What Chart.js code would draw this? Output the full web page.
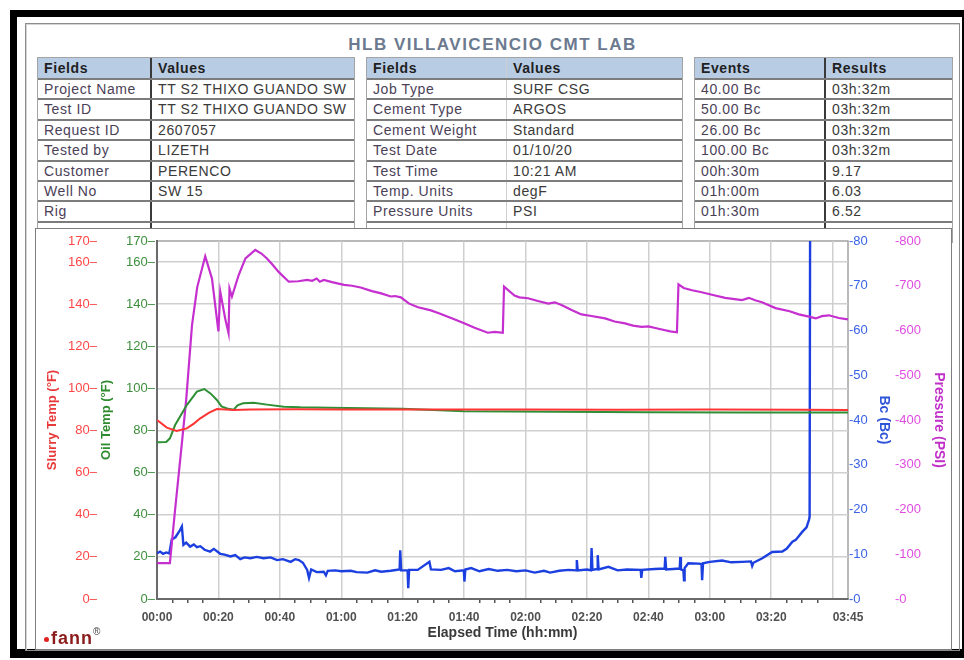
<!DOCTYPE html>
<html>
<head>
<meta charset="utf-8">
<title>HLB VILLAVICENCIO CMT LAB</title>
<script src="https://cdn.jsdelivr.net/npm/chart.js@4.4.1/dist/chart.umd.min.js"></script>
<style>
    html, body { margin: 0; padding: 0; background: #fff; }
    body {
        width: 964px; height: 660px; position: relative; overflow: hidden;
        font-family: 'Liberation Sans', Arial, sans-serif;
    }
    #blackFrame {
        position: absolute; left: 10px; top: 10px; width: 945px; height: 632px;
        border: solid #000; border-width: 7px 2px 9px 7px;
    }
    #report {
        position: absolute; left: 25px; top: 23px; width: 933px; height: 626px;
        border: 1px solid #8c8c8c; box-shadow: inset 1px 1px 0 #d4d4d4;
    }
    #title {
        position: absolute; left: 25px; top: 36px; width: 935px; margin: 0;
        text-align: center; font-size: 17px; line-height: 18px; font-weight: bold;
        letter-spacing: 1.5px; color: #6b7a8f;
    }
    .tbl {
        position: absolute; top: 57px;
        border: 1px solid #a4a4a4; border-bottom: none;
        font-size: 14px; letter-spacing: 0.6px;
    }
    .tbl > div {
        display: grid; height: 20.4px; box-sizing: border-box;
        border-bottom: 2px solid #7c7c7c;
    }
    .tbl > div.hd { height: 22px; background: #b8cce4; font-weight: bold; color: #1f1f1f; }
    .tbl span {
        padding-left: 6px; line-height: 18.4px; white-space: nowrap; overflow: hidden;
    }
    .tbl > div.hd span { line-height: 20px; }
    .tbl span:first-child { color: #4b3f58; }
    .tbl span + span { color: #3a3a3a; border-left: 1px solid #cfcfcf; }
    .tbl.dark span + span { border-left: 2px solid #3a3a3a; }
    .tbl > div.hd span { color: #1f1f1f; }
    #chartPanel {
        position: absolute; left: 35px; top: 228px; width: 917px; height: 422px;
        box-sizing: border-box; border: 1px solid #7d7d7d; background: #fff; z-index: 2;
    }
    #chartPanel canvas { position: absolute; left: 0; top: 0; }
    #logo {
        position: absolute; left: 44px; top: 622px; z-index: 3;
        font-size: 18px; line-height: 20px; font-weight: bold; letter-spacing: 1px;
        color: #8c1c1c;
    }
    #logo i {
        display: inline-block; width: 5px; height: 5px; border-radius: 50%;
        background: #e02020; margin-right: 2px; vertical-align: 2px;
    }
    #logo sup { font-size: 10px; color: #444; font-weight: normal; vertical-align: 9px; }
</style>
</head>
<body>
<div id="blackFrame"></div>
<div id="report"></div>
<h1 id="title">HLB VILLAVICENCIO CMT LAB</h1>

<div class="tbl dark" style="left:37px; width:316px;">
    <div class="hd" style="grid-template-columns:112px 1fr"><span>Fields</span><span>Values</span></div>
    <div style="grid-template-columns:112px 1fr"><span>Project Name</span><span>TT S2 THIXO GUANDO SW</span></div>
    <div style="grid-template-columns:112px 1fr"><span>Test ID</span><span>TT S2 THIXO GUANDO SW</span></div>
    <div style="grid-template-columns:112px 1fr"><span>Request ID</span><span>2607057</span></div>
    <div style="grid-template-columns:112px 1fr"><span>Tested by</span><span>LIZETH</span></div>
    <div style="grid-template-columns:112px 1fr"><span>Customer</span><span>PERENCO</span></div>
    <div style="grid-template-columns:112px 1fr"><span>Well No</span><span>SW 15</span></div>
    <div style="grid-template-columns:112px 1fr"><span>Rig</span><span></span></div>
    <div style="grid-template-columns:112px 1fr"><span></span><span></span></div>
</div>

<div class="tbl" style="left:366px; width:315px;">
    <div class="hd" style="grid-template-columns:139px 1fr"><span>Fields</span><span>Values</span></div>
    <div style="grid-template-columns:139px 1fr"><span>Job Type</span><span>SURF CSG</span></div>
    <div style="grid-template-columns:139px 1fr"><span>Cement Type</span><span>ARGOS</span></div>
    <div style="grid-template-columns:139px 1fr"><span>Cement Weight</span><span>Standard</span></div>
    <div style="grid-template-columns:139px 1fr"><span>Test Date</span><span>01/10/20</span></div>
    <div style="grid-template-columns:139px 1fr"><span>Test Time</span><span>10:21 AM</span></div>
    <div style="grid-template-columns:139px 1fr"><span>Temp. Units</span><span>degF</span></div>
    <div style="grid-template-columns:139px 1fr"><span>Pressure Units</span><span>PSI</span></div>
    <div style="grid-template-columns:139px 1fr"><span></span><span></span></div>
</div>

<div class="tbl dark" style="left:694px; width:257px;">
    <div class="hd" style="grid-template-columns:129px 1fr"><span>Events</span><span>Results</span></div>
    <div style="grid-template-columns:129px 1fr"><span>40.00 Bc</span><span>03h:32m</span></div>
    <div style="grid-template-columns:129px 1fr"><span>50.00 Bc</span><span>03h:32m</span></div>
    <div style="grid-template-columns:129px 1fr"><span>26.00 Bc</span><span>03h:32m</span></div>
    <div style="grid-template-columns:129px 1fr"><span>100.00 Bc</span><span>03h:32m</span></div>
    <div style="grid-template-columns:129px 1fr"><span>00h:30m</span><span>9.17</span></div>
    <div style="grid-template-columns:129px 1fr"><span>01h:00m</span><span>6.03</span></div>
    <div style="grid-template-columns:129px 1fr"><span>01h:30m</span><span>6.52</span></div>
    <div style="grid-template-columns:129px 1fr"><span></span><span></span></div>
</div>

<div id="chartPanel">
    <canvas id="cement-chart" width="914" height="420"></canvas>
</div>
<div id="logo"><i></i>fann<sup>®</sup></div>

<script>
// elapsed minutes / readings
const slurryTime = [0, 3.2, 6.4, 9.7, 12, 14.1, 17, 19.5, 25, 30.4, 45, 60, 90, 120, 150, 180, 210, 225];
const slurryTemp = [85, 81.4, 79.8, 81, 83.3, 85.8, 88.5, 90.2, 89.8, 90, 90.1, 90, 90, 90, 89.9, 90, 89.9, 89.8];

const oilTime = [0, 3, 4.2, 5.9, 9.7, 13, 15.4, 17.5, 19.5, 21, 22.8, 25, 26.2, 28, 31.5, 35.8, 41.3, 46.7, 56.5, 80, 100, 130, 160, 190, 225];
const oilTemp = [74.4, 74.6, 76.3, 82.6, 92.1, 98.5, 99.7, 97.5, 94.5, 91.5, 90.5, 89.9, 92, 92.9, 93.2, 92.3, 91.3, 91, 90.8, 90.3, 89.2, 88.9, 88.7, 88.6, 88.6];

const pressureTime = [0, 4.2, 5.9, 8.2, 9.5, 11.4, 13.1, 15.7, 17.9, 20, 20.6, 22.2, 23.3, 23.6, 24.4, 26.6, 28.8, 32, 34, 35.8, 37.5, 39.6, 42.9, 46, 48.9, 50.5, 52, 53, 54.3, 57, 60.9, 63.5, 66.3, 70, 73, 76.1, 77.5, 79.4, 82.1, 85, 89.2, 92, 96.8, 100, 103.4, 107.7, 110, 112.6, 113, 116.4, 118, 120.8, 124, 127.4, 129.5, 131.7, 135, 138.2, 141, 145.9, 149, 152.4, 155, 157.8, 160, 163.3, 167.1, 169.3, 169.8, 171.5, 174.2, 177, 180.7, 185, 190.5, 192.7, 195, 197, 201.4, 206, 209, 212.3, 214.5, 216.5, 218.8, 222, 225];
const pressureValues = [80, 80, 200, 355, 445, 612, 697, 766, 716, 598, 687, 627, 594, 694, 676, 724, 761, 780, 772, 761, 748, 731, 709, 710, 713, 711, 716, 709, 713, 708, 702, 700, 696, 688, 683, 676, 677, 674, 660, 652, 645, 638, 625, 616, 606, 595, 597, 595, 698, 678, 674, 672, 666, 660, 663, 657, 646, 636, 633, 627, 620, 616, 611, 608, 609, 604, 598, 596, 703, 695, 690, 686, 680, 673, 668, 673, 667, 663, 650, 643, 636, 631, 627, 632, 634, 628, 625];

const bcTime = [0, 1, 2, 3, 4, 4.8, 6, 7.5, 8.1, 8.6, 9.5, 10.8, 12, 13, 14.1, 15.5, 17.3, 18.5, 20.6, 22, 23.9, 25.5, 27.1, 28.5, 30.4, 32.5, 34.7, 37, 39.1, 41, 43.5, 45, 46.2, 47.5, 48.9, 49.5, 50.2, 52, 54.3, 55, 55.6, 58, 60, 63.1, 65, 68.5, 71, 73, 76.1, 79, 79.2, 79.5, 81.6, 81.8, 82.1, 84.9, 88.7, 89.2, 92.5, 95, 97, 99.9, 100.1, 100.4, 102.3, 105, 108, 111, 114, 117, 120, 123, 126, 128, 131, 134, 136.5, 136.7, 137, 140, 141.3, 141.5, 141.8, 143.3, 143.5, 143.8, 147, 150, 153, 157.5, 157.7, 158, 162, 165.3, 165.5, 165.8, 170.2, 170.4, 170.6, 171.4, 171.6, 171.8, 173, 176.4, 177.3, 177.5, 177.8, 180, 184, 187, 190.5, 193.4, 193.8, 194.2, 197.1, 200.3, 203.6, 205, 206.9, 208, 210.1, 211.5, 212.3, 212.5, 212.7];
const bcValues = [10.2, 10.6, 10.1, 10.4, 10.2, 13.3, 13.8, 15.4, 16.2, 12.1, 12.6, 11.7, 12.2, 11.6, 11.8, 11.0, 10.6, 11.2, 10.1, 9.9, 9.5, 9.8, 8.9, 9.3, 9.1, 9.4, 9.1, 9.3, 8.7, 8.9, 8.3, 8.9, 8.7, 8.1, 6.5, 4.7, 6.6, 6.0, 6.1, 5.3, 6.3, 6.4, 6.2, 6.3, 6.0, 5.9, 6.4, 6.1, 6.3, 6.6, 10.9, 6.4, 6.4, 2.4, 6.5, 6.5, 8.3, 6.6, 6.5, 6.9, 6.2, 6.4, 3.9, 6.6, 6.9, 6.2, 6.7, 6.3, 6.5, 6.2, 6.4, 5.9, 6.3, 5.9, 6.3, 6.5, 6.4, 8.7, 6.4, 6.6, 6.4, 11.4, 6.5, 6.7, 9.8, 6.6, 7.2, 6.4, 6.6, 6.5, 4.7, 6.5, 6.7, 6.8, 9.4, 6.6, 6.8, 9.4, 6.6, 6.4, 4.2, 6.9, 8.0, 7.9, 7.8, 4.2, 8.0, 8.3, 8.6, 8.2, 8.3, 8.4, 7.4, 8.1, 9.1, 10.5, 10.6, 11.2, 12.8, 13.2, 15.0, 16.0, 17.7, 18.4, 100];

const tempTicks = [0, 20, 40, 60, 80, 100, 120, 140, 160, 170];
const xLabelMinutes = [0, 20, 40, 60, 80, 100, 120, 140, 160, 180, 200, 225];
const xTickLabels = ['00:00', '00:20', '00:40', '01:00', '01:20', '01:40', '02:00', '02:20', '02:40', '03:00', '03:20', '03:45'];

const FONT = "'Liberation Sans', Arial, sans-serif";
const GRID = '#cfcfcf';

Chart.defaults.font.family = FONT;

function toPoints(times, values) {
    return times.map((t, i) => ({ x: t, y: values[i] }));
}

// light frame round the plot area (left and bottom get the darker axis borders)
const plotFrame = {
    id: 'plotFrame',
    beforeDraw(chart) {
        const { ctx, chartArea: a } = chart;
        ctx.save();
        ctx.strokeStyle = '#a2a2a2';
        ctx.lineWidth = 1.5;
        ctx.strokeRect(a.left, a.top, a.right - a.left, a.bottom - a.top);
        ctx.restore();
    }
};

const ctx = document.getElementById('cement-chart').getContext('2d');
new Chart(ctx, {
    type: 'line',
    data: {
        datasets: [
            { label: 'Slurry Temp', data: toPoints(slurryTime, slurryTemp), borderColor: '#ff3434', yAxisID: 'ySlurry' },
            { label: 'Oil Temp', data: toPoints(oilTime, oilTemp), borderColor: '#2f8f35', yAxisID: 'yOil' },
            { label: 'Pressure', data: toPoints(pressureTime, pressureValues), borderColor: '#c52fcf', borderWidth: 2.2, yAxisID: 'yPressure' },
            { label: 'Bc', data: toPoints(bcTime, bcValues), borderColor: '#1c3fe0', borderWidth: 2.4, yAxisID: 'yBc' }
        ]
    },
    options: {
        responsive: false,
        animation: false,
        devicePixelRatio: 1,
        layout: { padding: { top: 12, left: 0, right: 0, bottom: 0 } },
        elements: {
            point: { radius: 0 },
            line: { borderWidth: 2, tension: 0 }
        },
        plugins: {
            legend: { display: false },
            tooltip: { enabled: false }
        },
        scales: {
            x: {
                type: 'linear',
                position: 'bottom',
                min: 0,
                max: 225,
                afterFit: scale => { scale.height = 50; },
                grid: {
                    color: c => (c.tick && c.tick.value % 20 === 0 && c.tick.value > 0 && c.tick.value < 225) ? GRID : 'transparent',
                    lineWidth: 1.5,
                    drawTicks: true,
                    tickLength: 4,
                    tickWidth: 1.5,
                    tickColor: c => (c.tick && c.tick.value % 20 !== 0 && c.tick.value !== 225) ? '#555' : 'transparent'
                },
                border: { color: '#6a6a6a', width: 2 },
                ticks: {
                    stepSize: 5,
                    maxTicksLimit: 60,
                    autoSkip: false,
                    maxRotation: 0,
                    padding: 7,
                    color: '#505050',
                    font: { size: 12, weight: 'bold' },
                    callback: v => {
                        const i = xLabelMinutes.indexOf(v);
                        return i < 0 ? '' : xTickLabels[i];
                    }
                },
                title: {
                    display: true,
                    text: 'Elapsed Time (hh:mm)',
                    color: '#3a3a3a',
                    font: { size: 14, weight: 'bold' },
                    padding: { top: 0, bottom: 7 }
                }
            },
            ySlurry: {
                position: 'left',
                weight: 1,
                min: 0,
                max: 170,
                afterBuildTicks: scale => { scale.ticks = tempTicks.map(v => ({ value: v })); },
                afterFit: scale => { scale.width = 63; },
                grid: { display: false, drawTicks: false },
                border: { display: false },
                ticks: { padding: 2, color: '#ff4747', font: { size: 13 }, callback: v => v + '–' },
                title: {
                    display: true, text: 'Slurry Temp (°F)', color: '#e83a3a',
                    font: { size: 13, weight: 'bold' }, padding: { top: 9, bottom: 0 }
                }
            },
            yOil: {
                position: 'left',
                weight: 0,
                min: 0,
                max: 170,
                afterBuildTicks: scale => { scale.ticks = tempTicks.map(v => ({ value: v })); },
                afterFit: scale => { scale.width = 58; },
                grid: {
                    color: c => (c.tick && c.tick.value > 0 && c.tick.value < 170) ? GRID : 'transparent',
                    lineWidth: 1.5,
                    drawTicks: false
                },
                border: { color: '#6a6a6a', width: 2 },
                ticks: { padding: 2, color: '#3d8f3d', font: { size: 13 }, callback: v => v + '–' },
                title: {
                    display: true, text: 'Oil Temp (°F)', color: '#2e8b2e',
                    font: { size: 13, weight: 'bold' }, padding: { top: 0, bottom: 0 }
                }
            },
            yBc: {
                position: 'right',
                weight: 0,
                min: 0,
                max: 80,
                afterFit: scale => { scale.width = 45; },
                grid: { display: false, drawTicks: false },
                border: { display: false },
                ticks: { stepSize: 10, padding: 1, color: '#3a62e6', font: { size: 13 }, callback: v => '-' + v },
                title: {
                    display: true, text: 'Bc (Bc)', color: '#2f55d8',
                    font: { size: 14, weight: 'bold' }, padding: { top: 0.6, bottom: 0 }
                }
            },
            yPressure: {
                position: 'right',
                weight: 1,
                min: 0,
                max: 800,
                afterFit: scale => { scale.width = 57; },
                grid: { display: false, drawTicks: false },
                border: { display: false },
                ticks: { stepSize: 100, padding: 2, color: '#e04ce0', font: { size: 13 }, callback: v => '-' + v },
                title: {
                    display: true, text: 'Pressure (PSI)', color: '#c02fc8',
                    font: { size: 14, weight: 'bold' }, padding: { top: 2.6, bottom: 0 }
                }
            }
        }
    },
    plugins: [plotFrame]
});
</script>
</body>
</html>
